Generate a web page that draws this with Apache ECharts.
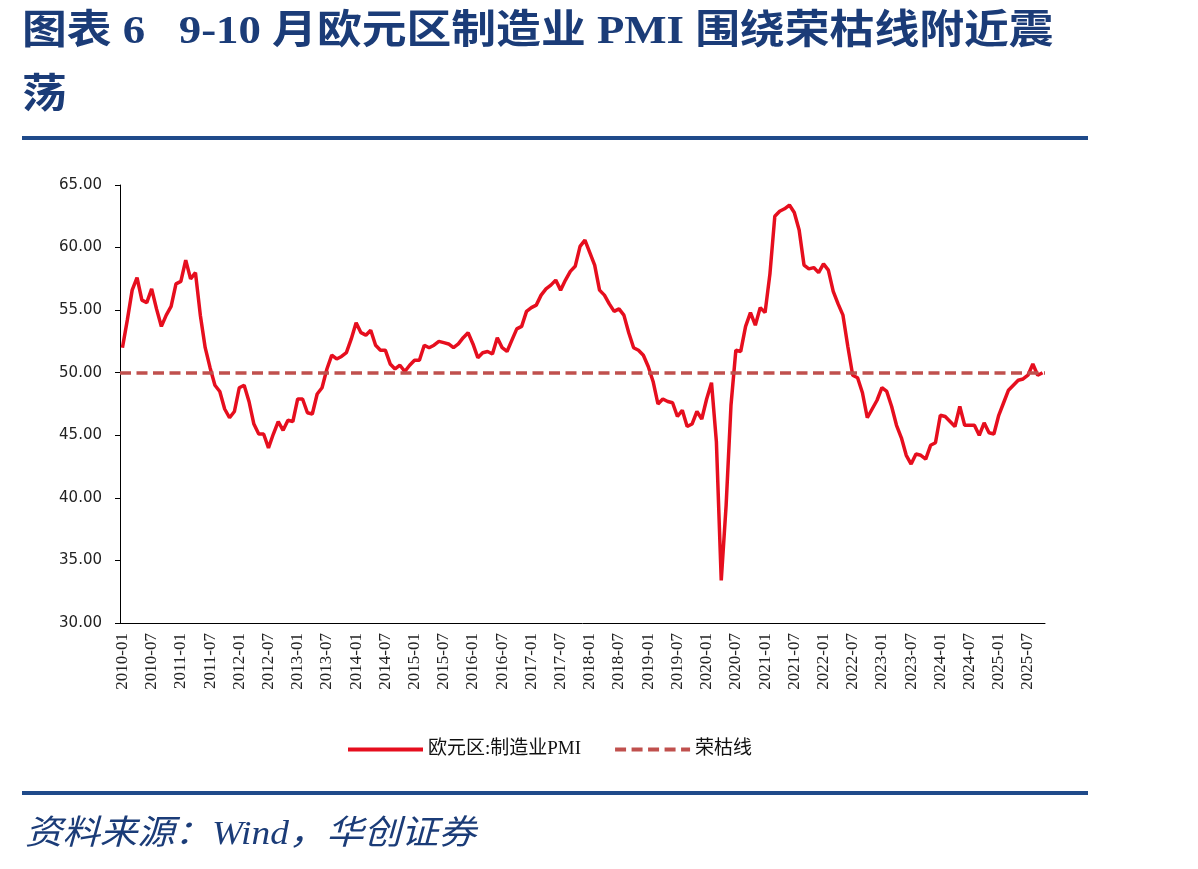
<!DOCTYPE html>
<html>
<head>
<meta charset="utf-8">
<title>欧元区制造业PMI</title>
<script src="https://cdn.jsdelivr.net/npm/echarts@6/dist/echarts.min.js"></script>
<style>
  html, body { margin: 0; padding: 0; background: #fff; }
  #chart { width: 1198px; height: 869px; }
</style>
</head>
<body>
<div id="chart"></div>
<script>
// 数据：2010-01 ~ 2025-10 欧元区制造业PMI（月度）
const startYear = 2010
const pmiValues = [
  52.0, 54.2, 56.6, 57.6, 55.8, 55.6, 56.7, 55.1, 53.7, 54.6, 55.3, 57.1, // 2010
  57.3, 59.0, 57.5, 58.0, 54.6, 52.0, 50.4, 49.0, 48.5, 47.1, 46.4, 46.9, // 2011
  48.8, 49.0, 47.7, 45.9, 45.1, 45.1, 44.0, 45.1, 46.1, 45.4, 46.2, 46.1, // 2012
  47.9, 47.9, 46.8, 46.7, 48.3, 48.8, 50.3, 51.4, 51.1, 51.3, 51.6, 52.7, // 2013
  54.0, 53.2, 53.0, 53.4, 52.2, 51.8, 51.8, 50.7, 50.3, 50.6, 50.1, 50.6, // 2014
  51.0, 51.0, 52.2, 52.0, 52.2, 52.5, 52.4, 52.3, 52.0, 52.3, 52.8, 53.2, // 2015
  52.3, 51.2, 51.6, 51.7, 51.5, 52.8, 52.0, 51.7, 52.6, 53.5, 53.7, 54.9, // 2016
  55.2, 55.4, 56.2, 56.7, 57.0, 57.4, 56.6, 57.4, 58.1, 58.5, 60.1, 60.6, // 2017
  59.6, 58.6, 56.6, 56.2, 55.5, 54.9, 55.1, 54.6, 53.2, 52.0, 51.8, 51.4, // 2018
  50.5, 49.3, 47.5, 47.9, 47.7, 47.6, 46.5, 47.0, 45.7, 45.9, 46.9, 46.3, // 2019
  47.9, 49.2, 44.5, 33.4, 39.4, 47.4, 51.8, 51.7, 53.7, 54.8, 53.8, 55.2, // 2020
  54.8, 57.9, 62.5, 62.9, 63.1, 63.4, 62.8, 61.4, 58.6, 58.3, 58.4, 58.0, // 2021
  58.7, 58.2, 56.5, 55.5, 54.6, 52.1, 49.8, 49.6, 48.4, 46.4, 47.1, 47.8, // 2022
  48.8, 48.5, 47.3, 45.8, 44.8, 43.4, 42.7, 43.5, 43.4, 43.1, 44.2, 44.4, // 2023
  46.6, 46.5, 46.1, 45.7, 47.3, 45.8, 45.8, 45.8, 45.0, 46.0, 45.2, 45.1, // 2024
  46.6, 47.6, 48.6, 49.0, 49.4, 49.5, 49.8, 50.7, 49.8, 50.0              // 2025
]
const boomBustLevel = 50
const yMin = 30
const yMax = 65
const yStep = 5
const legendNames = ['欧元区:制造业PMI', '荣枯线']

// 月份类目
const months = pmiValues.map((_, i) => {
  const y = startYear + Math.floor(i / 12)
  const m = (i % 12) + 1
  return y + '-' + (m < 10 ? '0' + m : m)
})

const navy = '#1B3C78'
const chart = echarts.init(document.getElementById('chart'))

const option = {
  animation: false,
  backgroundColor: '#fff',
  graphic: [
    {
      type: 'text',
      x: 22,
      y: 1,
      scaleX: 1.12,
      style: {
        text: '图表 6   9-10 月欧元区制造业 PMI 围绕荣枯线附近震\n荡',
        fill: navy,
        font: "bold 40px 'Liberation Serif', 'Noto Sans CJK SC'",
        lineHeight: 64,
        verticalAlign: 'top'
      }
    },
    { type: 'rect', shape: { x: 22, y: 136, width: 1066, height: 4 }, style: { fill: '#1F4A8A' } },
    { type: 'rect', shape: { x: 22, y: 791, width: 1066, height: 4 }, style: { fill: '#1F4A8A' } },
    {
      type: 'text',
      x: 25,
      y: 818,
      scaleX: 1.1,
      style: {
        text: '资料来源：Wind，华创证券',
        fill: navy,
        font: "italic 34px 'Liberation Serif', 'Noto Sans CJK SC'",
        verticalAlign: 'top'
      }
    }
  ],
  legend: {
    data: legendNames,
    left: 341,
    top: 735,
    itemWidth: 75,
    itemHeight: 14,
    itemGap: 32,
    itemStyle: { opacity: 0 },
    lineStyle: { width: 4 },
    textStyle: {
      fontFamily: "'Liberation Serif', 'Noto Sans CJK SC'",
      fontSize: 19,
      color: '#111'
    }
  },
  grid: {
    left: 120,
    right: 153,
    top: 185,
    bottom: 246
  },
  xAxis: {
    type: 'category',
    data: months,
    boundaryGap: true,
    axisLine: { lineStyle: { color: '#000', width: 1 } },
    axisTick: { interval: 5, length: 5, lineStyle: { color: '#000' } },
    axisLabel: {
      interval: 5,
      rotate: 90,
      margin: 10,
      fontFamily: "'Liberation Serif'",
      fontSize: 17,
      color: '#222'
    },
    splitLine: { show: false }
  },
  yAxis: {
    type: 'value',
    min: yMin,
    max: yMax,
    interval: yStep,
    axisLine: { show: true, lineStyle: { color: '#000', width: 1 } },
    axisTick: { show: true, length: 5, lineStyle: { color: '#000' } },
    axisLabel: {
      formatter: v => v.toFixed(2),
      margin: 18,
      fontFamily: "'DejaVu Sans'",
      fontSize: 15,
      color: '#222'
    },
    splitLine: { show: false }
  },
  series: [
    {
      name: legendNames[0],
      type: 'line',
      data: pmiValues,
      symbol: 'none',
      z: 3,
      lineStyle: { color: '#E60E1E', width: 3.5 },
      itemStyle: { color: '#E60E1E' }
    },
    {
      name: legendNames[1],
      type: 'line',
      data: [],
      symbol: 'none',
      z: 2,
      lineStyle: { color: '#C0504D', width: 3.5, type: [11, 5.5] },
      itemStyle: { color: '#C0504D' },
      markLine: {
        silent: true,
        symbol: ['none', 'none'],
        label: { show: false },
        lineStyle: { color: '#C0504D', width: 3.5, type: [11, 5.5] },
        data: [{ yAxis: boomBustLevel }]
      }
    }
  ]
}

chart.setOption(option)
window.addEventListener('resize', () => chart.resize())
</script>
</body>
</html>
